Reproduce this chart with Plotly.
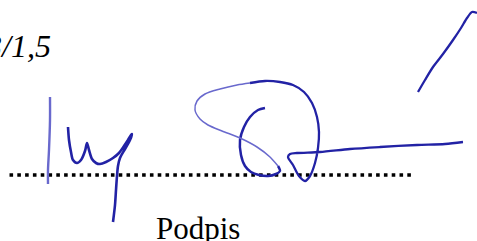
import plotly.graph_objects as go

# ---- content ----
ref_label = "3/1,5"
caption = "Podpis"

# signature strokes (pixel-space coordinates)
stroke_i_x = [50, 50, 49, 48, 48]
stroke_i_y = [97, 120, 150, 170, 184]

stroke_uy_x = [68, 69, 71, 73, 77, 81, 85, 87, 89, 92, 96, 100, 106, 113, 119, 124, 128, 131, 132, 130, 125, 120, 118, 117, 116, 115, 113]
stroke_uy_y = [127, 140, 152, 160, 163, 160, 151, 143, 150, 159, 163, 164, 162, 158, 153, 146, 140, 135, 134, 140, 149, 158, 166, 176, 190, 205, 222]

stroke_c_x = [265, 258, 250, 244, 240, 241, 245, 251, 259, 268, 276, 280, 278]
stroke_c_y = [108, 110, 117, 127, 140, 155, 166, 172, 175, 176, 174, 171, 166]

stroke_thin_x = [278, 270, 257, 240, 222, 208, 200, 195, 197, 205, 220, 237, 250]
stroke_thin_y = [166, 157, 147, 138, 131, 125, 119, 110, 101, 94, 89, 85, 83]

stroke_arc_x = [250, 265, 280, 293, 304, 312, 317, 319, 318, 315, 310, 305, 299, 293, 288, 290, 297, 320, 350, 380, 417, 445, 463]
stroke_arc_y = [83, 81, 82, 85, 92, 103, 117, 132, 148, 163, 176, 181, 176, 165, 157, 154, 153, 152, 149, 147, 145, 144, 142]

stroke_rise_x = [418, 425, 433, 443, 453, 461, 467, 472, 477]
stroke_rise_y = [92, 80, 67, 54, 40, 28, 18, 12, 13]

W, H = 477, 241
ink = "rgb(34,34,165)"
ink_faded = "rgb(105,105,205)"

fig = go.Figure()

def add_stroke(xs, ys, color, width):
    fig.add_trace(go.Scatter(x=xs, y=ys, mode="lines",
                             line=dict(color=color, width=width, shape="spline", smoothing=0.8),
                             hoverinfo="skip", showlegend=False))

add_stroke(stroke_i_x, stroke_i_y, ink_faded, 2.4)
add_stroke(stroke_uy_x, stroke_uy_y, ink, 2.6)
add_stroke(stroke_c_x, stroke_c_y, ink, 2.5)
add_stroke(stroke_thin_x, stroke_thin_y, ink_faded, 1.5)
add_stroke(stroke_arc_x, stroke_arc_y, ink, 2.3)
add_stroke(stroke_rise_x, stroke_rise_y, ink, 2.3)

# dotted signature rule
fig.add_shape(type="line", x0=9.5, x1=414.5, y0=175, y1=175, xref="x", yref="y",
              line=dict(color="black", width=3.6, dash="3.6px,4.2px"), layer="below")

fig.add_annotation(x=53, y=46, xref="x", yref="y", text="<i>" + ref_label + "</i>",
                   showarrow=False, xanchor="right", yanchor="middle",
                   font=dict(family="Liberation Serif", size=32, color="black"))
fig.add_annotation(x=197.5, y=228, xref="x", yref="y", text=caption,
                   showarrow=False, xanchor="center", yanchor="middle",
                   font=dict(family="Liberation Serif", size=31, color="black"))

fig.update_layout(width=W, height=H, margin=dict(l=0, r=0, t=0, b=0),
                  paper_bgcolor="white", plot_bgcolor="white",
                  xaxis=dict(range=[0, W], visible=False, fixedrange=True),
                  yaxis=dict(range=[H, 0], visible=False, fixedrange=True))

fig.write_html("out.html", config={"displayModeBar": False},
               post_script="document.body.style.margin='0';document.body.style.overflow='hidden';")
